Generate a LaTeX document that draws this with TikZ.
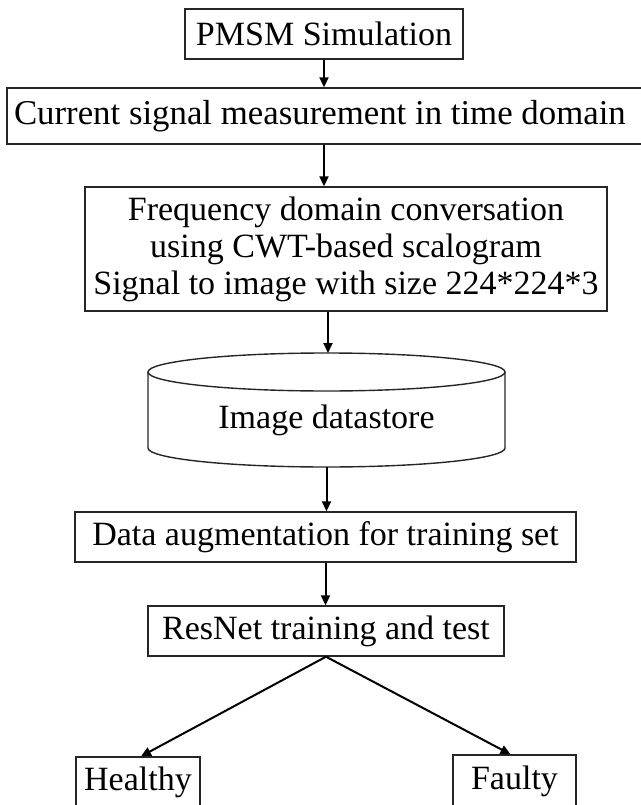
\documentclass[tikz,border=0pt]{standalone}
\usepackage{fontspec}
\setmainfont{Liberation Serif}
\usetikzlibrary{arrows.meta}
\begin{document}
\begin{tikzpicture}[x=1pt,y=-1pt,
  box/.style={draw=black!85, line width=1.4pt, rectangle, inner sep=0pt,
              align=center, font=\fontsize{34}{37}\selectfont},
  plain/.style={inner sep=0pt, align=center, font=\fontsize{34}{37}\selectfont},
  outline/.style={draw=black!85, line width=1.4pt},
  flow/.style={line width=2pt, -{Triangle[length=10pt,width=9pt]}}]
\useasboundingbox (0,0) rectangle (640,805);

% process boxes
\node[box, minimum width=278pt, minimum height=50pt] (pmsm) at (324,34) {PMSM Simulation};
\node[box, minimum width=650pt, minimum height=56pt, text width=636pt, align=flush left,
      font=\fontsize{34.8}{38}\selectfont]
  (cur) at (332,116) {Current signal measurement in time domain};
\node[box, minimum width=522pt, minimum height=124pt] (freq) at (346,249)
  {Frequency domain conversation\\using CWT-based scalogram\\Signal to image with size 224*224*3};

% datastore drawn as a cylinder around its label
\node[plain] (store) at (326.5,420) {Image datastore};
\coordinate (storetop) at (328,353);
\coordinate (storebot) at (326.5,467);
\draw[outline] (148,372) -- (148,448)
  arc[start angle=180, end angle=360, x radius=178.5pt, y radius=19pt]
  -- (505,372);
\draw[outline] (326.5,372) ellipse[x radius=178.5pt, y radius=19pt];

\node[box, minimum width=501pt, minimum height=50pt] (aug) at (325.5,537) {Data augmentation for training set};
\node[box, minimum width=356pt, minimum height=50pt] (resnet) at (326,631) {ResNet training and test};

% outcome boxes
\node[box, minimum width=124pt, minimum height=50pt] (healthy) at (138,782) {Healthy};
\node[box, minimum width=123pt, minimum height=52pt] (faulty) at (514.5,781) {Faulty};

% connectors
\draw[flow] (pmsm.south) -- (pmsm.south |- cur.north);
\draw[flow] (cur.south -| pmsm.south) -- (pmsm.south |- freq.north);
\draw[flow] (storetop |- freq.south) -- (storetop);
\draw[flow] (storebot) -- (storebot |- aug.north);
\draw[flow] (aug.south) -- (aug.south |- resnet.north);
\draw[flow] (resnet.south) -- ([xshift=3pt]healthy.north);
\draw[flow] (resnet.south) -- ([xshift=-4pt]faulty.north);
\end{tikzpicture}
\end{document}
